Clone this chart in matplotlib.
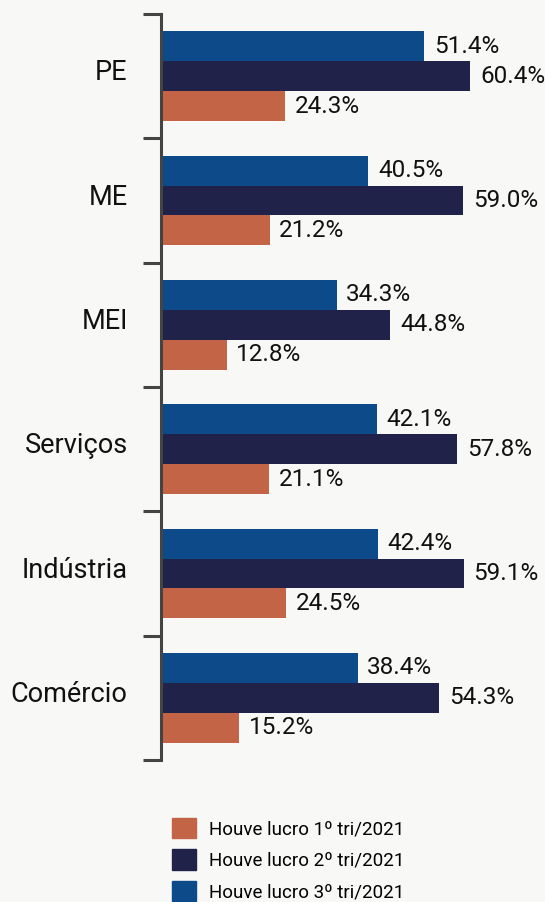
import numpy as np
import matplotlib.pyplot as plt
from matplotlib.patches import Patch

plt.rcParams['font.family'] = ['Roboto', 'DejaVu Sans']

# data
categories = ['PE', 'ME', 'MEI', 'Serviços', 'Indústria', 'Comércio']
tri1 = [24.3, 21.2, 12.8, 21.1, 24.5, 15.2]
tri2 = [60.4, 59.0, 44.8, 57.8, 59.1, 54.3]
tri3 = [51.4, 40.5, 34.3, 42.1, 42.4, 38.4]
series_labels = ['Houve lucro 1º tri/2021', 'Houve lucro 2º tri/2021', 'Houve lucro 3º tri/2021']

c1, c2, c3 = '#C26445', '#20224A', '#0D4A8A'
bg = '#F8F8F6'

fig = plt.figure(figsize=(5.45, 9.02), dpi=100, facecolor=bg)
ax = fig.add_axes([161 / 545, 142 / 902, 384 / 545, 746 / 902])
ax.set_facecolor(bg)

y = np.arange(len(categories))
h = 0.24
for vals, off, col in [(tri3, -h, c3), (tri2, 0, c2), (tri1, h, c1)]:
    bars = ax.barh(y + off, vals, height=h, color=col)
    for b, v in zip(bars, vals):
        ax.text(v + 1.9, b.get_y() + b.get_height() / 2, f'{v:.1f}%',
                va='center', ha='left', fontsize=17.5, color='#111111')

ax.set_xlim(0, 75)
ax.set_ylim(len(categories) - 0.5, -0.5)
ax.set_xticks([])
ax.set_yticks(np.arange(-0.5, len(categories), 1.0))
ax.set_yticklabels([])
ax.set_yticks(y - 0.05, minor=True)
ax.set_yticklabels(categories, minor=True, fontsize=19.5, color='#111111')
ax.tick_params(axis='y', which='major', length=13, width=2.2, color='#444444')
ax.tick_params(axis='y', which='minor', length=0, pad=24)
for s in ['top', 'right', 'bottom']:
    ax.spines[s].set_visible(False)
ax.spines['left'].set_color('#444444')
ax.spines['left'].set_linewidth(2.2)

handles = [Patch(color=c1), Patch(color=c2), Patch(color=c3)]
fig.legend(handles, series_labels, loc='upper left', bbox_to_anchor=(172 / 545, 1 - 818 / 902),
           frameon=False, fontsize=13.5, handlelength=1.3, handleheight=1.3,
           handletextpad=0.65, labelspacing=0.58, borderpad=0, borderaxespad=0)

plt.savefig('out.png', dpi=100, facecolor=bg)
